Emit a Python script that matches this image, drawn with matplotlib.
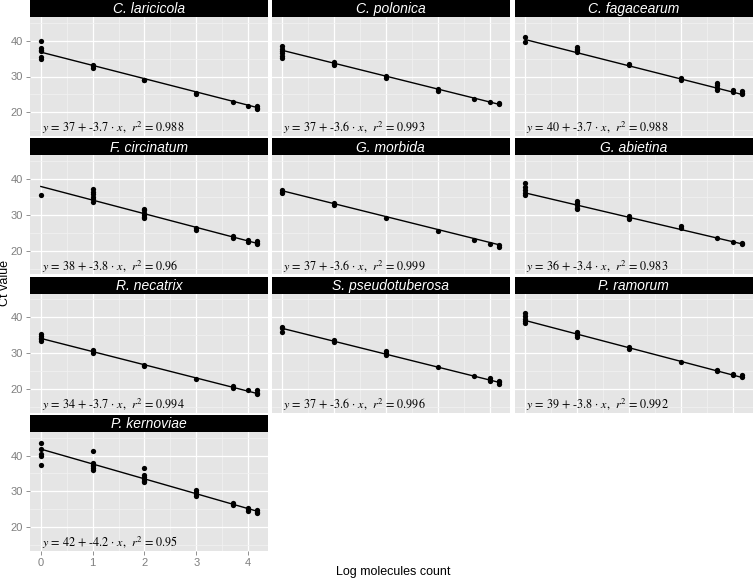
import numpy as np
import matplotlib
matplotlib.use('Agg')
import matplotlib.pyplot as plt

plt.rcParams['font.family'] = ['Liberation Sans', 'DejaVu Sans']
plt.rcParams['mathtext.fontset'] = 'stix'

# log10 of molecule counts used in the dilution series
x_levels = [0, 1, 2, 3, 3.7, 4, 4.18]

# Ct values per x level (one inner list per level)
ct_c_laricicola = [[39.8, 38.0, 37.5, 37.0, 35.5, 35.0], [33.3, 32.8, 32.3], [29.1, 28.9], [25.5, 25.2], [23.0], [21.8], [21.7, 21.3, 21.0]]
ct_c_polonica = [[38.5, 37.8, 37.2, 36.5, 35.8, 35.2], [34.0, 33.5, 33.2], [30.2, 29.6], [26.5, 26.0], [23.8], [22.9], [22.6, 22.2]]
ct_c_fagacearum = [[41.0, 39.5], [38.2, 37.8, 37.3, 36.8], [33.6, 33.2], [29.6, 29.0], [28.3, 27.5, 26.8, 26.2], [26.2, 25.7], [26.0, 25.5, 25.0]]
ct_f_circinatum = [[35.6], [37.2, 36.5, 35.8, 35.0, 34.3, 33.6], [31.7, 31.2, 30.6, 30.0, 29.5, 29.0], [26.2, 25.8], [24.2, 23.6], [23.0, 22.5], [22.6, 22.1, 21.8]]
ct_g_morbida = [[36.9, 36.4, 36.2], [33.3, 32.8], [29.2], [25.5], [23.0], [21.9], [21.6, 21.1]]
ct_g_abietina = [[38.8, 37.8, 37.0, 36.0, 35.4], [33.8, 33.2, 32.6, 32.0, 31.6], [29.8, 29.2, 28.7], [26.8, 26.2], [23.5], [22.5], [22.2, 21.8]]
ct_r_necatrix = [[35.3, 34.8, 34.3, 33.8, 33.4], [31.0, 30.5, 30.0], [26.8, 26.3], [22.9], [20.8, 20.3], [19.6], [19.6, 19.0, 18.7]]
ct_s_pseudotuberosa = [[37.4, 36.9, 36.0], [33.6, 33.1], [30.6, 30.1, 29.6], [26.2], [23.7], [23.0, 22.5, 22.1], [22.3, 21.8, 21.4]]
ct_p_ramorum = [[41.2, 40.4, 39.6, 39.0, 38.4], [36.0, 35.5, 35.0, 34.5], [31.8, 31.2], [27.6], [25.4, 25.0], [24.3, 24.0], [23.9, 23.4]]
ct_p_kernoviae = [[43.4, 41.9, 40.4, 39.8, 37.4], [41.2, 38.0, 37.5, 37.0, 36.5, 36.0], [36.6, 34.5, 34.0, 33.5, 33.0, 32.5], [30.3, 29.8, 29.3, 28.8], [26.7, 26.2], [25.5, 25.0, 24.6], [24.8, 24.3, 23.9]]

species = ['C. laricicola', 'C. polonica', 'C. fagacearum', 'F. circinatum', 'G. morbida',
           'G. abietina', 'R. necatrix', 'S. pseudotuberosa', 'P. ramorum', 'P. kernoviae']
ct_values = [ct_c_laricicola, ct_c_polonica, ct_c_fagacearum, ct_f_circinatum, ct_g_morbida,
             ct_g_abietina, ct_r_necatrix, ct_s_pseudotuberosa, ct_p_ramorum, ct_p_kernoviae]

# regression lines
intercepts = [36.8, 37.3, 40.3, 37.9, 36.7, 36.1, 34.1, 36.9, 39.1, 41.8]
slopes = [-3.70, -3.60, -3.66, -3.80, -3.60, -3.40, -3.68, -3.60, -3.80, -4.15]
r2_labels = ['0.988', '0.993', '0.988', '0.96', '0.999', '0.983', '0.994', '0.996', '0.992', '0.95']
eq_intercepts = ['37', '37', '40', '38', '37', '36', '34', '37', '39', '42']
eq_slopes = ['-3.7', '-3.6', '-3.7', '-3.8', '-3.6', '-3.4', '-3.7', '-3.6', '-3.8', '-4.2']

W, H = 753, 579
fig = plt.figure(figsize=(W / 100, H / 100), dpi=100)
fig.patch.set_facecolor('white')

col_left = [30, 271.5, 514.5]
col_w = 238
row_pitch = 138.3
strip_h = 17
panel_h = 119

xlim = (-0.209, 4.385)
ylim = (13.4, 46.6)

for i, name in enumerate(species):
    r, c = divmod(i, 3)
    left = col_left[c]
    top = r * row_pitch + strip_h
    ax = fig.add_axes([left / W, 1 - (top + panel_h) / H, col_w / W, panel_h / H])
    sax = fig.add_axes([left / W, 1 - (r * row_pitch + strip_h) / H, col_w / W, strip_h / H])
    sax.set_facecolor('black')
    sax.set_xticks([])
    sax.set_yticks([])
    for s in sax.spines.values():
        s.set_visible(False)
    sax.text(0.5, 0.45, name, color='white', style='italic', fontsize=10,
             ha='center', va='center', transform=sax.transAxes)

    ax.set_facecolor('#E5E5E5')
    for s in ax.spines.values():
        s.set_visible(False)
    ax.set_xlim(*xlim)
    ax.set_ylim(*ylim)
    ax.set_xticks([0, 1, 2, 3, 4])
    ax.set_yticks([20, 30, 40])
    ax.set_xticks([0.5, 1.5, 2.5, 3.5], minor=True)
    ax.set_yticks([15, 25, 35, 45], minor=True)
    ax.grid(which='major', color='white', linewidth=0.9)
    ax.grid(which='minor', color='#F2F2F2', linewidth=0.5)
    ax.set_axisbelow(True)
    ax.tick_params(which='minor', length=0)
    ax.tick_params(which='major', length=3, width=0.6, color='#7F7F7F',
                   labelcolor='#7F7F7F', labelsize=8, pad=2)

    # x axis only on the bottom panel, y axis only on the left column
    if i != 9:
        ax.tick_params(axis='x', which='major', length=0, labelbottom=False)
    if c != 0:
        ax.tick_params(axis='y', which='major', length=0, labelleft=False)

    xs, ys = [], []
    for xv, vals in zip(x_levels, ct_values[i]):
        xs += [xv] * len(vals)
        ys += vals
    ax.plot(xs, ys, 'o', color='black', markersize=3.8, markeredgewidth=0)

    xx = np.array([min(x_levels), max(x_levels)])
    ax.plot(xx, intercepts[i] + slopes[i] * xx, color='black', linewidth=1.0)

    label = '$y$ = ' + eq_intercepts[i] + ' + ' + eq_slopes[i] + ' \u00b7 $x$,  $r^2$ = ' + r2_labels[i]
    ax.text(0.02, 15.6, label, fontsize=8.7, family='STIXGeneral', ha='left', va='center')

fig.text(5 / W, 1 - 283 / H, 'Ct value', rotation=90, ha='center', va='center', fontsize=9)
fig.text(393 / W, 1 - 572 / H, 'Log molecules count', ha='center', va='center', fontsize=9)

fig.savefig('out.png', dpi=100)
